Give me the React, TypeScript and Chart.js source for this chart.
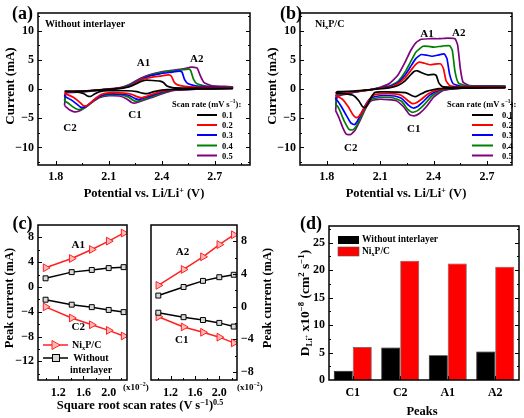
import React, { useEffect, useRef } from 'react';
import { Chart, registerables } from 'chart.js';

Chart.register(...registerables);

const FONT = '"Liberation Serif", "Times New Roman", serif';
const W = 524;
const H = 418;
const YW = 34; // reserved width of a y axis
const XH = 24; // reserved height of an x axis

// ---------------- data ----------------
const SCAN_RATES = ['0.1', '0.2', '0.3', '0.4', '0.5'];
const RATE_COLORS = ['#000000', '#ff0000', '#0000ff', '#008000', '#800080'];

// (a) Without interlayer: CV loops [V, mA]
const CV_A_01 = [[1.85,-0.35],[1.86,-0.4],[1.95,-0.35],[2.05,-0.15],[2.12,0.0],[2.18,0.15],[2.22,0.4],[2.25,0.8],[2.28,1.25],[2.31,1.5],[2.35,1.45],[2.39,1.35],[2.41,1.1],[2.43,0.5],[2.46,0.25],[2.55,0.15],[2.8,0.1],
  [2.8,0.05],[2.6,0.0],[2.46,-0.05],[2.4,-0.2],[2.35,-0.5],[2.32,-0.8],[2.29,-0.7],[2.26,-0.45],[2.2,-0.3],[2.1,-0.3],[2.05,-0.45],[2.02,-0.85],[2.0,-1.25],[1.98,-1.2],[1.96,-0.8],[1.92,-0.5],[1.85,-0.35]];
const CV_A_02 = [[1.85,-0.8],[1.86,-0.45],[1.95,-0.35],[2.05,-0.15],[2.12,0.0],[2.18,0.2],[2.22,0.5],[2.26,1.1],[2.3,1.7],[2.34,2.0],[2.39,2.2],[2.44,2.4],[2.455,2.2],[2.47,1.2],[2.49,0.7],[2.53,0.45],[2.6,0.3],[2.8,0.2],
  [2.8,0.1],[2.6,0.0],[2.47,-0.1],[2.4,-0.4],[2.35,-0.85],[2.31,-1.3],[2.285,-1.5],[2.26,-1.3],[2.23,-0.9],[2.19,-0.7],[2.1,-0.65],[2.06,-0.9],[2.03,-1.5],[2.0,-2.3],[1.975,-2.9],[1.955,-2.8],[1.93,-2.1],[1.9,-1.4],[1.87,-1.0],[1.85,-0.8]];
const CV_A_03 = [[1.85,-1.3],[1.86,-0.5],[1.95,-0.4],[2.05,-0.15],[2.12,0.0],[2.18,0.25],[2.22,0.6],[2.26,1.2],[2.3,1.8],[2.34,2.3],[2.39,2.6],[2.45,2.85],[2.5,3.05],[2.515,2.9],[2.53,1.6],[2.55,0.9],[2.6,0.5],[2.8,0.25],
  [2.8,0.15],[2.6,0.0],[2.47,-0.15],[2.4,-0.55],[2.35,-1.05],[2.3,-1.55],[2.27,-1.8],[2.25,-1.65],[2.22,-1.15],[2.18,-0.9],[2.1,-0.85],[2.06,-1.1],[2.02,-1.8],[1.99,-2.6],[1.96,-3.1],[1.94,-3.1],[1.92,-2.6],[1.89,-1.9],[1.86,-1.4],[1.85,-1.3]];
const CV_A_04 = [[1.85,-2.0],[1.86,-0.6],[1.95,-0.45],[2.05,-0.2],[2.12,0.0],[2.18,0.3],[2.22,0.7],[2.26,1.3],[2.3,1.9],[2.35,2.5],[2.4,2.85],[2.46,3.1],[2.52,3.3],[2.555,3.4],[2.565,3.1],[2.58,1.7],[2.6,0.9],[2.65,0.5],[2.8,0.3],
  [2.8,0.2],[2.6,0.0],[2.47,-0.2],[2.4,-0.7],[2.35,-1.25],[2.3,-1.8],[2.26,-2.1],[2.24,-1.95],[2.21,-1.35],[2.17,-1.0],[2.1,-1.0],[2.05,-1.3],[2.01,-2.1],[1.98,-2.9],[1.95,-3.4],[1.925,-3.5],[1.9,-3.1],[1.87,-2.4],[1.85,-2.0]];
const CV_A_05 = [[1.85,-2.8],[1.86,-0.7],[1.95,-0.5],[2.05,-0.2],[2.12,0.05],[2.18,0.35],[2.22,0.8],[2.26,1.5],[2.3,2.1],[2.35,2.6],[2.4,2.95],[2.46,3.2],[2.52,3.45],[2.57,3.75],[2.6,3.6],[2.62,2.2],[2.64,1.1],[2.68,0.6],[2.8,0.35],
  [2.8,0.25],[2.6,0.05],[2.47,-0.25],[2.4,-0.85],[2.34,-1.5],[2.29,-2.0],[2.25,-2.4],[2.23,-2.3],[2.2,-1.65],[2.16,-1.2],[2.1,-1.15],[2.05,-1.45],[2.0,-2.4],[1.96,-3.3],[1.93,-3.8],[1.905,-3.9],[1.88,-3.6],[1.86,-3.1],[1.85,-2.8]];

// (b) NixP/C: CV loops [V, mA]
const CV_B_01 = [[1.85,-0.7],[1.86,-0.45],[1.95,-0.35],[2.05,-0.1],[2.1,0.05],[2.15,0.2],[2.2,0.6],[2.24,1.4],[2.27,2.4],[2.29,3.0],[2.31,3.1],[2.34,2.7],[2.37,2.4],[2.4,2.5],[2.415,2.3],[2.43,1.0],[2.45,0.4],[2.5,0.3],[2.8,0.3],
  [2.8,0.2],[2.6,0.15],[2.45,0.1],[2.4,-0.1],[2.36,-0.4],[2.32,-1.0],[2.3,-1.3],[2.28,-1.15],[2.25,-0.7],[2.2,-0.55],[2.1,-0.5],[2.07,-0.6],[2.05,-1.4],[2.03,-2.6],[2.015,-3.2],[2.0,-3.0],[1.98,-2.0],[1.95,-1.1],[1.9,-0.8],[1.85,-0.7]];
const CV_B_02 = [[1.85,-1.2],[1.86,-0.6],[1.95,-0.45],[2.05,-0.1],[2.1,0.1],[2.15,0.3],[2.2,0.9],[2.24,1.9],[2.27,3.1],[2.3,4.2],[2.32,4.6],[2.35,4.4],[2.38,4.15],[2.42,4.3],[2.44,4.3],[2.455,3.5],[2.47,1.4],[2.49,0.6],[2.55,0.4],[2.8,0.35],
  [2.8,0.25],[2.6,0.2],[2.47,0.05],[2.42,-0.2],[2.37,-0.8],[2.33,-1.8],[2.3,-2.4],[2.28,-2.5],[2.26,-2.1],[2.22,-1.1],[2.18,-0.85],[2.1,-0.85],[2.06,-1.1],[2.03,-2.2],[2.0,-3.8],[1.98,-4.7],[1.965,-4.9],[1.945,-4.3],[1.92,-3.0],[1.89,-1.8],[1.86,-1.3],[1.85,-1.2]];
const CV_B_03 = [[1.85,-1.8],[1.86,-0.8],[1.95,-0.5],[2.05,-0.1],[2.1,0.15],[2.15,0.4],[2.2,1.1],[2.24,2.4],[2.27,3.8],[2.3,5.2],[2.33,5.9],[2.36,5.8],[2.39,5.6],[2.43,5.85],[2.46,6.0],[2.475,5.2],[2.49,2.5],[2.51,0.9],[2.56,0.45],[2.8,0.4],
  [2.8,0.3],[2.6,0.2],[2.48,0.05],[2.43,-0.2],[2.38,-1.0],[2.34,-2.2],[2.31,-3.0],[2.285,-3.25],[2.26,-2.8],[2.22,-1.6],[2.18,-1.2],[2.1,-1.15],[2.05,-1.5],[2.02,-2.6],[1.99,-4.4],[1.97,-5.6],[1.955,-6.1],[1.935,-5.8],[1.91,-4.5],[1.88,-2.9],[1.86,-2.0],[1.85,-1.8]];
const CV_B_04 = [[1.85,-2.7],[1.86,-1.0],[1.95,-0.55],[2.05,-0.1],[2.1,0.2],[2.15,0.5],[2.2,1.3],[2.24,2.9],[2.27,4.6],[2.3,6.3],[2.34,7.3],[2.37,7.3],[2.4,7.15],[2.45,7.35],[2.49,7.4],[2.505,6.6],[2.52,3.0],[2.54,1.0],[2.6,0.5],[2.8,0.45],
  [2.8,0.35],[2.6,0.25],[2.5,0.05],[2.44,-0.25],[2.39,-1.2],[2.35,-2.6],[2.31,-3.7],[2.28,-4.0],[2.255,-3.5],[2.22,-2.1],[2.17,-1.5],[2.1,-1.45],[2.05,-1.8],[2.02,-3.0],[1.99,-4.9],[1.965,-6.4],[1.945,-7.0],[1.925,-6.9],[1.9,-5.6],[1.875,-3.8],[1.86,-2.9],[1.85,-2.7]];
const CV_B_05 = [[1.85,-3.7],[1.86,-1.3],[1.95,-0.6],[2.05,-0.1],[2.1,0.3],[2.15,0.9],[2.2,2.4],[2.24,4.6],[2.27,6.5],[2.3,7.9],[2.33,8.5],[2.38,8.6],[2.43,8.6],[2.48,8.7],[2.52,8.6],[2.535,7.5],[2.55,3.5],[2.565,1.2],[2.6,0.6],[2.8,0.5],
  [2.8,0.4],[2.6,0.3],[2.52,0.05],[2.45,-0.3],[2.4,-1.4],[2.36,-3.0],[2.32,-4.2],[2.29,-4.6],[2.265,-4.4],[2.23,-3.0],[2.19,-2.0],[2.1,-1.75],[2.05,-2.0],[2.02,-3.2],[1.99,-5.2],[1.96,-7.0],[1.935,-7.8],[1.91,-7.7],[1.89,-6.6],[1.87,-5.0],[1.855,-4.0],[1.85,-3.7]];

const CV_X_TICKS = [1.8, 2.1, 2.4, 2.7];
const CV_X_MINOR = [1.95, 2.25, 2.55, 2.85];
const CV_Y_TICKS = [-10, -5, 0, 5, 10];
const CV_Y_MINOR = [-12.5, -7.5, -2.5, 2.5, 7.5, 12.5];

// (c) peak currents vs sqrt(scan rate) (x10^-2)
const SQRT_RATE = [1.0, 1.414, 1.732, 2.0, 2.236];
const NIXP_A1 = [3.1, 4.6, 6.05, 7.4, 8.7];
const WO_A1 = [1.4, 2.4, 2.75, 3.05, 3.2];
const WO_C2 = [-2.05, -2.85, -3.25, -3.7, -4.05];
const NIXP_C2 = [-3.2, -5.0, -6.1, -7.0, -7.9];
const NIXP_A2 = [2.6, 4.55, 6.1, 7.6, 8.8];
const WO_A2 = [1.35, 2.4, 3.15, 3.6, 3.9];
const WO_C1 = [-0.75, -1.3, -1.65, -2.0, -2.45];
const NIXP_C1 = [-1.25, -2.5, -3.15, -3.75, -4.45];

const PK_X_TICKS = [1.2, 1.6, 2.0];
const PK_X_MINOR = [1.0, 1.4, 1.8, 2.2];
const PK_L_Y_TICKS = [-12, -8, -4, 0, 4, 8];
const PK_L_Y_MINOR = [-14, -10, -6, -2, 2, 6];
const PK_R_Y_TICKS = [-8, -4, 0, 4, 8];
const PK_R_Y_MINOR = [-6, -2, 2, 6];

// (d) diffusion coefficients
const PEAKS = ['C1', 'C2', 'A1', 'A2'];
const D_WITHOUT = [1.7, 5.9, 4.5, 5.2];
const D_NIXP = [6.0, 21.7, 21.2, 20.6];
const D_Y_TICKS = [0, 5, 10, 15, 20, 25];
const D_Y_MINOR = [2.5, 7.5, 12.5, 17.5, 22.5, 27.5];

// ---------------- layout ----------------
const BOX_A = { l: 38, t: 13, r: 250, b: 165 };
const BOX_B = { l: 300, t: 13, r: 512, b: 165 };
const BOX_C1 = { l: 38, t: 225, r: 127, b: 380 };
const BOX_C2 = { l: 151, t: 225, r: 237, b: 380 };
const BOX_D = { l: 329, t: 226, r: 519, b: 380 };

const minus = (v: number) => (v < 0 ? '\u2212' + Math.abs(v) : String(v));
const f1 = (v: number) => v.toFixed(1);

const framePlugin = {
  id: 'frame',
  afterDatasetsDraw(chart: any, _a: any, o: any) {
    const { ctx, chartArea: a } = chart;
    const xs = chart.scales.x;
    const ys = chart.scales.y;
    const sides: string = o.sides || 'lbr';
    ctx.save();
    ctx.strokeStyle = '#000';
    ctx.lineWidth = 1;
    const seg = (x1: number, y1: number, x2: number, y2: number) => {
      ctx.beginPath();
      ctx.moveTo(x1, y1);
      ctx.lineTo(x2, y2);
      ctx.stroke();
    };
    const xt = (vals: number[], len: number) =>
      (vals || []).forEach((v) => {
        const p = Math.round(xs.getPixelForValue(v)) + 0.5;
        if (p < a.left || p > a.right) return;
        if (sides.includes('b')) seg(p, a.bottom, p, a.bottom - len);
        if (sides.includes('t')) seg(p, a.top, p, a.top + len);
      });
    const yt = (vals: number[], len: number) =>
      (vals || []).forEach((v) => {
        const p = Math.round(ys.getPixelForValue(v)) + 0.5;
        if (p < a.top || p > a.bottom) return;
        if (sides.includes('l')) seg(a.left, p, a.left + len, p);
        if (sides.includes('r')) seg(a.right, p, a.right - len, p);
      });
    xt(o.xMajor, 4);
    xt(o.xMinor, 2);
    yt(o.yMajor, 4);
    yt(o.yMinor, 2);
    ctx.lineWidth = 1.5;
    ctx.strokeRect(a.left, a.top, a.right - a.left, a.bottom - a.top);
    ctx.restore();
  },
};

function fixSize(s: any) {
  if (s.isHorizontal()) s.height = XH;
  else s.width = YW;
}

function lin(min: number, max: number, ticks: number[], fmt: (v: number) => string, position: string, pad: number, size = 12) {
  return {
    type: 'linear',
    position,
    min,
    max,
    afterBuildTicks: (s: any) => {
      s.ticks = ticks.map((v) => ({ value: v }));
    },
    afterFit: fixSize,
    grid: { display: false, drawTicks: false },
    border: { display: false },
    ticks: {
      callback: (v: any) => fmt(Number(v)),
      padding: pad,
      color: '#000',
      autoSkip: false,
      maxRotation: 0,
      font: { family: FONT, size, weight: 'bold' },
    },
  };
}

function baseOpts(box: any, scales: any, frame: any, ySide: 'left' | 'right') {
  return {
    responsive: false,
    maintainAspectRatio: false,
    animation: false,
    devicePixelRatio: 1,
    events: [],
    layout: {
      padding: {
        left: box.l - (ySide === 'left' ? YW : 0),
        top: box.t,
        right: W - box.r - (ySide === 'right' ? YW : 0),
        bottom: H - box.b - XH,
      },
    },
    plugins: { legend: { display: false }, tooltip: { enabled: false }, frame },
    scales,
  };
}

function cvConfig(box: any, curves: number[][][], xmin: number, xmax: number): any {
  return {
    type: 'scatter',
    data: {
      datasets: curves.map((c, i) => ({
        data: c.map(([x, y]) => ({ x, y })),
        showLine: true,
        borderColor: RATE_COLORS[i],
        borderWidth: 1.7,
        pointRadius: 0,
        pointHoverRadius: 0,
        tension: 0.15,
      })),
    },
    options: baseOpts(
      box,
      {
        x: lin(xmin, xmax, CV_X_TICKS, f1, 'bottom', 5),
        y: lin(-13, 13, CV_Y_TICKS, minus, 'left', 4),
      },
      { xMajor: CV_X_TICKS, xMinor: CV_X_MINOR, yMajor: CV_Y_TICKS, yMinor: CV_Y_MINOR, sides: 'lbr' },
      'left'
    ),
    plugins: [framePlugin],
  };
}

function peakSet(vals: number[], red: boolean) {
  return {
    data: vals.map((y, i) => ({ x: SQRT_RATE[i], y })),
    showLine: true,
    borderColor: red ? '#ff2020' : '#000000',
    borderWidth: 1.5,
    pointStyle: red ? 'triangle' : 'rect',
    pointRotation: red ? 90 : 0,
    pointRadius: red ? 4.5 : 3.5,
    pointBorderWidth: 1,
    pointBorderColor: red ? '#ff2020' : '#000000',
    pointBackgroundColor: red ? '#ffb8b8' : '#d8d8d8',
    tension: 0,
  };
}

function peakConfig(box: any, sets: any[], ymin: number, ymax: number, yt: number[], ym: number[], side: 'left' | 'right'): any {
  return {
    type: 'scatter',
    data: { datasets: sets },
    options: baseOpts(
      box,
      {
        x: lin(0.88, 2.29, PK_X_TICKS, f1, 'bottom', 6),
        y: lin(ymin, ymax, yt, minus, side, 4),
      },
      { xMajor: PK_X_TICKS, xMinor: PK_X_MINOR, yMajor: yt, yMinor: ym, sides: side === 'left' ? 'lb' : 'rb' },
      side
    ),
    plugins: [framePlugin],
  };
}

function barConfig(): any {
  return {
    type: 'bar',
    data: {
      labels: PEAKS,
      datasets: [
        { data: D_WITHOUT, backgroundColor: '#000000', borderColor: '#000000', borderWidth: 0.8, categoryPercentage: 0.8, barPercentage: 1.0 },
        { data: D_NIXP, backgroundColor: '#ff0000', borderColor: '#555555', borderWidth: 0.8, categoryPercentage: 0.8, barPercentage: 1.0 },
      ],
    },
    options: baseOpts(
      BOX_D,
      {
        x: {
          type: 'category',
          offset: true,
          afterFit: fixSize,
          grid: { display: false, drawTicks: false },
          border: { display: false },
          ticks: { padding: 6, color: '#000', font: { family: FONT, size: 12, weight: 'bold' } },
        },
        y: lin(0, 28, D_Y_TICKS, minus, 'left', 4),
      },
      { xMajor: [0, 1, 2, 3], xMinor: [], yMajor: D_Y_TICKS, yMinor: D_Y_MINOR, sides: 'lbr' },
      'left'
    ),
    plugins: [framePlugin],
  };
}

// ---------------- text helpers ----------------
const Sup = ({ children }: any) => (
  <span style={{ fontSize: '0.65em', position: 'relative', top: '-0.55em' }}>{children}</span>
);
const Sub = ({ children }: any) => (
  <span style={{ fontSize: '0.65em', position: 'relative', top: '0.35em' }}>{children}</span>
);

function Txt({ x, y, s = 12, a = 'c', rot = false, children }: any) {
  const tx = a === 'l' ? '0' : a === 'r' ? '-100%' : '-50%';
  return (
    <div
      style={{
        position: 'absolute',
        left: x,
        top: y,
        transform: rot ? 'translate(-50%,-50%) rotate(-90deg)' : `translate(${tx},-50%)`,
        fontSize: s,
        fontWeight: 700,
        fontFamily: FONT,
        lineHeight: 1,
        whiteSpace: 'nowrap',
        color: '#000',
      }}
    >
      {children}
    </div>
  );
}

const NiXPC = () => (
  <>
    Ni<Sub>x</Sub>P/C
  </>
);

const LEG_Y = [115, 125, 135, 145.5, 155.5];

export default function App() {
  const r0 = useRef<HTMLCanvasElement>(null);
  const r1 = useRef<HTMLCanvasElement>(null);
  const r2 = useRef<HTMLCanvasElement>(null);
  const r3 = useRef<HTMLCanvasElement>(null);
  const r4 = useRef<HTMLCanvasElement>(null);

  useEffect(() => {
    const charts = [
      new Chart(r0.current as any, cvConfig(BOX_A, [CV_A_01, CV_A_02, CV_A_03, CV_A_04, CV_A_05], 1.7, 2.9)),
      new Chart(r1.current as any, cvConfig(BOX_B, [CV_B_01, CV_B_02, CV_B_03, CV_B_04, CV_B_05], 1.65, 2.84)),
      new Chart(
        r2.current as any,
        peakConfig(BOX_C1, [peakSet(NIXP_A1, true), peakSet(WO_A1, false), peakSet(WO_C2, false), peakSet(NIXP_C2, true)], -15, 10, PK_L_Y_TICKS, PK_L_Y_MINOR, 'left')
      ),
      new Chart(
        r3.current as any,
        peakConfig(BOX_C2, [peakSet(NIXP_A2, true), peakSet(WO_A2, false), peakSet(WO_C1, false), peakSet(NIXP_C1, true)], -9, 10, PK_R_Y_TICKS, PK_R_Y_MINOR, 'right')
      ),
      new Chart(r4.current as any, barConfig()),
    ];
    return () => charts.forEach((c) => c.destroy());
  }, []);

  const cv = { position: 'absolute' as const, left: 0, top: 0, width: W, height: H };

  return (
    <div style={{ position: 'absolute', left: 0, top: 0, width: W, height: H, background: '#fff', overflow: 'hidden', fontFamily: FONT }}>
      <canvas ref={r0} width={W} height={H} style={cv} />
      <canvas ref={r1} width={W} height={H} style={cv} />
      <canvas ref={r2} width={W} height={H} style={cv} />
      <canvas ref={r3} width={W} height={H} style={cv} />
      <canvas ref={r4} width={W} height={H} style={cv} />

      <svg width={W} height={H} style={{ position: 'absolute', left: 0, top: 0 }}>
        {LEG_Y.map((y, i) => (
          <line key={'la' + i} x1={197} x2={217} y1={y} y2={y} stroke={RATE_COLORS[i]} strokeWidth={2} />
        ))}
        {LEG_Y.map((y, i) => (
          <line key={'lb' + i} x1={472} x2={493} y1={y} y2={y} stroke={RATE_COLORS[i]} strokeWidth={2} />
        ))}
        <line x1={43} x2={68} y1={345} y2={345} stroke="#ff2020" strokeWidth={1.5} />
        <polygon points="52,340.5 60,345 52,349.5" fill="#ffb8b8" stroke="#ff2020" strokeWidth={1} />
        <line x1={43} x2={68} y1={358} y2={358} stroke="#000" strokeWidth={1.5} />
        <rect x={52.5} y={354.5} width={7} height={7} fill="#d8d8d8" stroke="#000" strokeWidth={1} />
        <rect x={338} y={236} width={21} height={8} fill="#000" />
        <rect x={338} y={247} width={21} height={9} fill="#ff0000" stroke="#555" strokeWidth={0.6} />
      </svg>

      {/* panel letters */}
      <Txt x={22.5} y={12.5} s={18}>(a)</Txt>
      <Txt x={291} y={12.5} s={18}>(b)</Txt>
      <Txt x={22.5} y={223} s={18}>(c)</Txt>
      <Txt x={311} y={222.5} s={18}>(d)</Txt>

      {/* (a) */}
      <Txt x={9} y={86} s={13} rot>Current (mA)</Txt>
      <Txt x={144} y={193} s={12.5}>Potential vs. Li/Li<Sup>+</Sup> (V)</Txt>
      <Txt x={45} y={24} s={10} a="l">Without interlayer</Txt>
      <Txt x={143.5} y={62} s={11}>A1</Txt>
      <Txt x={196.7} y={58.3} s={11}>A2</Txt>
      <Txt x={135} y={114} s={11}>C1</Txt>
      <Txt x={70} y={126.7} s={11}>C2</Txt>
      <Txt x={172} y={103.5} s={8.5} a="l">Scan rate (mV s<Sup>−1</Sup>):</Txt>
      {SCAN_RATES.map((r, i) => (
        <Txt key={'ta' + i} x={222} y={LEG_Y[i]} s={8.5} a="l">{r}</Txt>
      ))}

      {/* (b) */}
      <Txt x={271} y={86} s={13} rot>Current (mA)</Txt>
      <Txt x={406} y={193} s={12.5}>Potential vs. Li/Li<Sup>+</Sup> (V)</Txt>
      <Txt x={315} y={24} s={10} a="l"><NiXPC /></Txt>
      <Txt x={427} y={32.7} s={11}>A1</Txt>
      <Txt x={458.7} y={32} s={11}>A2</Txt>
      <Txt x={413.7} y={127.5} s={11}>C1</Txt>
      <Txt x={350.7} y={146.7} s={11}>C2</Txt>
      <Txt x={447} y={103.5} s={8.5} a="l">Scan rate (mV s<Sup>−1</Sup>):</Txt>
      {SCAN_RATES.map((r, i) => (
        <Txt key={'tb' + i} x={502} y={LEG_Y[i]} s={8.5} a="l">{r}</Txt>
      ))}

      {/* (c) */}
      <Txt x={9} y={298} s={12.5} rot>Peak current (mA)</Txt>
      <Txt x={267} y={298} s={12.5} rot>Peak current (mA)</Txt>
      <Txt x={140} y={405} s={12.5}>Square root scan rates (V s<Sup>−1</Sup>)<Sup>0.5</Sup></Txt>
      <Txt x={123} y={386.5} s={9} a="l">(x10<Sup>−2</Sup>)</Txt>
      <Txt x={237} y={386.5} s={9} a="l">(x10<Sup>−2</Sup>)</Txt>
      <Txt x={78.3} y={243.7} s={11}>A1</Txt>
      <Txt x={78.3} y={325.8} s={11}>C2</Txt>
      <Txt x={182.5} y={250.8} s={11}>A2</Txt>
      <Txt x={181.7} y={339.2} s={11}>C1</Txt>
      <Txt x={72} y={345} s={10} a="l"><NiXPC /></Txt>
      <Txt x={91} y={358} s={10}>Without</Txt>
      <Txt x={91} y={370} s={10}>interlayer</Txt>

      {/* (d) */}
      <Txt x={305} y={303} s={13.5} rot>
        D<Sub>Li<Sup>+</Sup></Sub> x10<Sup>−8</Sup> (cm<Sup>2</Sup> s<Sup>−1</Sup>)
      </Txt>
      <Txt x={422} y={410.5} s={12.5}>Peaks</Txt>
      <Txt x={362} y={240} s={9.5} a="l">Without interlayer</Txt>
      <Txt x={362} y={251.5} s={9.5} a="l"><NiXPC /></Txt>
    </div>
  );
}
